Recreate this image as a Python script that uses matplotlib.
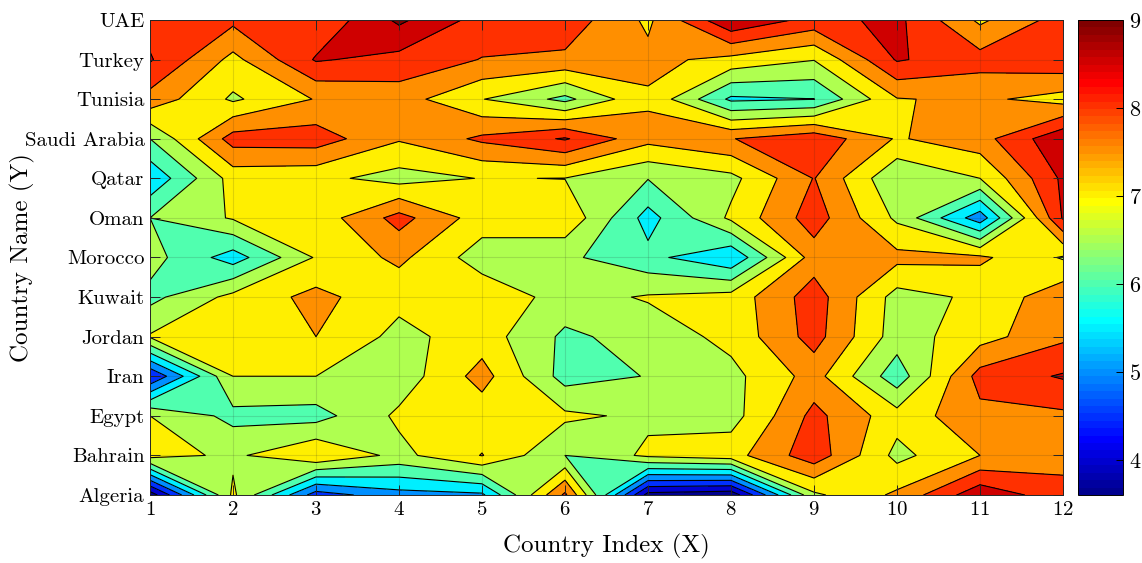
import numpy as np
import matplotlib
matplotlib.use("Agg")
import matplotlib.pyplot as plt
from matplotlib import colors as mcolors
from matplotlib import cm

plt.rcParams['font.family'] = 'serif'
plt.rcParams['font.serif'] = ['cmr10', 'DejaVu Serif']
plt.rcParams['mathtext.fontset'] = 'cm'
plt.rcParams['axes.formatter.use_mathtext'] = True

# data (rows = countries, columns = country index 1..12)
countries = ['Algeria', 'Bahrain', 'Egypt', 'Iran', 'Jordan', 'Kuwait', 'Morocco',
             'Oman', 'Qatar', 'Saudi Arabia', 'Tunisia', 'Turkey', 'UAE']
x_index = [1, 2, 3, 4, 5, 6, 7, 8, 9, 10, 11, 12]

algeria = [3.70, 7.10, 4.75, 5.30, 5.40, 8.10, 3.80, 3.65, 6.90, 7.60, 8.85, 8.20]
bahrain = [7.20, 6.90, 7.49, 6.85, 7.52, 6.50, 7.10, 7.30, 8.30, 6.85, 7.50, 7.80]
egypt   = [7.00, 6.35, 6.30, 7.10, 7.20, 7.10, 6.90, 6.79, 8.15, 7.20, 7.85, 7.90]
iran    = [4.50, 7.00, 7.00, 6.70, 7.70, 6.30, 6.52, 6.85, 7.70, 6.20, 8.20, 8.55]
jordan  = [7.05, 7.20, 7.50, 6.85, 7.25, 6.40, 6.70, 7.15, 8.20, 6.75, 7.30, 7.90]
kuwait  = [6.35, 7.15, 7.65, 7.15, 7.35, 6.80, 7.05, 7.20, 8.25, 6.80, 7.10, 7.85]
morocco = [6.70, 5.75, 7.05, 7.62, 6.75, 6.60, 6.15, 5.55, 7.75, 7.65, 7.60, 6.95]
oman    = [6.50, 7.05, 7.20, 8.18, 7.25, 7.40, 5.80, 7.10, 8.25, 6.90, 5.20, 8.55]
qatar   = [5.60, 7.20, 7.14, 6.80, 7.02, 6.99, 6.52, 6.85, 8.02, 6.55, 7.00, 8.60]
saudi   = [6.50, 8.22, 8.26, 7.55, 8.10, 8.55, 7.66, 7.98, 8.35, 7.45, 7.80, 8.90]
tunisia = [7.81, 6.92, 7.53, 7.73, 7.02, 6.36, 7.43, 5.90, 5.99, 7.47, 7.60, 7.30]
turkey  = [8.55, 7.35, 8.55, 8.34, 7.98, 7.90, 7.64, 7.35, 7.02, 8.55, 8.20, 8.38]
uae     = [8.30, 8.12, 8.09, 9.10, 8.30, 8.30, 7.40, 8.96, 8.33, 8.63, 7.40, 8.23]

Z = np.array([algeria, bahrain, egypt, iran, jordan, kuwait, morocco,
              oman, qatar, saudi, tunisia, turkey, uae])
X, Y = np.meshgrid(x_index, np.arange(1, len(countries) + 1))


def matlab_jet(m=64):
    # same construction as MATLAB's jet(m)
    n = int(np.ceil(m / 4))
    u = np.concatenate([np.arange(1, n + 1) / n, np.ones(n - 1), np.arange(n, 0, -1) / n])
    g = int(np.ceil(n / 2)) - (1 if m % 4 == 1 else 0) + np.arange(1, len(u) + 1)
    r = g + n
    b = g - n
    r = r[r <= m]
    g = g[g <= m]
    b = b[b >= 1]
    J = np.zeros((m, 3))
    J[r - 1, 0] = u[:len(r)]
    J[g - 1, 1] = u[:len(g)]
    J[b - 1, 2] = u[len(u) - len(b):]
    return J


cmin, cmax = 3.6, 9.0
J = matlab_jet(64)
jet = mcolors.ListedColormap(J)
norm = mcolors.Normalize(cmin, cmax)
levels = np.arange(3.5, 9.51, 0.5)


def level_color(v):
    idx = int(np.floor((v - cmin) / (cmax - cmin) * 64))
    return J[min(max(idx, 0), 63)]


band_colors = [level_color(l) for l in levels[:-1]]

fig = plt.figure(figsize=(11.42, 5.63), dpi=100)
ax = fig.add_axes([150/1142, 1 - 495/563, 913/1142, 475/563])
ax.contourf(X, Y, Z, levels=levels, colors=band_colors)
ax.contour(X, Y, Z, levels=levels[1:-1], colors='k', linewidths=0.8)

ax.set_xlim(1, 12)
ax.set_ylim(1, 13)
ax.set_xticks(x_index)
ax.set_yticks(np.arange(1, len(countries) + 1))
ax.set_yticklabels(countries)
ax.tick_params(direction='in', top=True, right=True, length=7, width=0.7,
               labelsize=15, colors='#262626', labelcolor='k', pad=4)
ax.grid(True, color='#262626', alpha=0.15, linewidth=0.8)
ax.set_axisbelow(False)
for s in ax.spines.values():
    s.set_linewidth(0.7)
    s.set_color('#262626')
ax.set_xlabel('Country Index (X)', fontsize=18, labelpad=11)
ax.set_ylabel('Country Name (Y)', fontsize=18)
ax.yaxis.set_label_coords((35 - 150) / 913, 0.5)

cax = fig.add_axes([1078/1142, 1 - 495/563, 45/1142, 475/563])
sm = cm.ScalarMappable(norm=norm, cmap=jet)
cb = fig.colorbar(sm, cax=cax)
cb.set_ticks([4, 5, 6, 7, 8, 9])
cb.ax.tick_params(direction='in', length=5, width=0.7, labelsize=16, pad=4)
cb.outline.set_linewidth(0.7)

fig.savefig('out.png', dpi=100)
